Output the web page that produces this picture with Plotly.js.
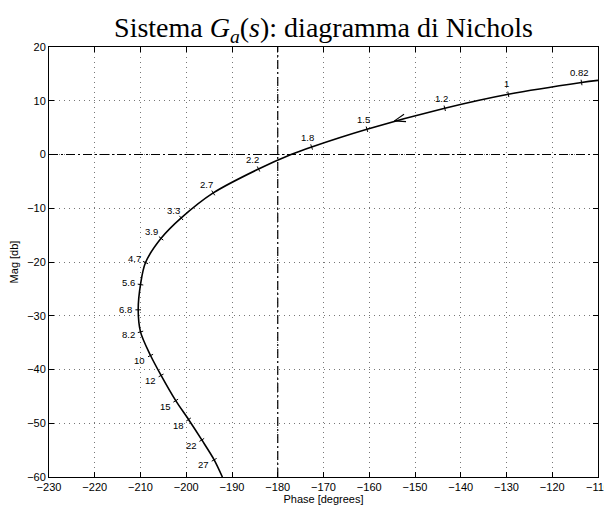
<!DOCTYPE html>
<html><head><meta charset="utf-8">
<script src="https://cdn.plot.ly/plotly-3.0.1.min.js"></script>
<style>html,body{margin:0;padding:0;background:#fff}</style>
</head><body><div id="chart" style="width:604px;height:507px"></div>
<script>
// Frequency labels of the marked points (rad/s)
const freqLabels = ['0.82','1','1.2','1.5','1.8','2.2','2.7','3.3','3.9','4.7','5.6','6.8','8.2','10','12','15','18','22','27'];
// Phase [deg] and magnitude [dB] of the marked points
const markPhase = [-113.6,-129.6,-143.5,-160.5,-172.6,-184.2,-194.1,-201.1,-205.5,-208.9,-210.0,-210.5,-210.0,-207.8,-205.5,-202.3,-199.5,-196.6,-193.9];
const markMag   = [13.4,11.2,8.6,4.7,1.4,-2.7,-7.15,-11.8,-15.6,-20.1,-24.2,-28.9,-33.0,-37.4,-41.1,-45.8,-49.3,-53.1,-56.8];
// Extra read points of the curve: entry at right edge, 0 dB crossing, exit at bottom
const startPoint = [-110, 13.8];
const zeroCross = [-177.1, 0];
const endPoint = [-192.1, -60];
// Direction arrow tip
const arrowTip = [-154.5, 6.26];
// Reference lines
const critPhase = -180;
const critMag = 0;
// Axes
const xRange = [-230, -110];
const yRange = [-60, 20];

// Build the curve from the read points
const curvePhase = [startPoint[0]];
const curveMag = [startPoint[1]];
const markIndex = [];
for (let i = 0; i < markPhase.length; i++) {
  markIndex.push(curvePhase.length);
  curvePhase.push(markPhase[i]); curveMag.push(markMag[i]);
  if (freqLabels[i] === '1.8') { curvePhase.push(zeroCross[0]); curveMag.push(zeroCross[1]); }
}
curvePhase.push(endPoint[0]); curveMag.push(endPoint[1]);

const W = 604, H = 507;
const M = {l: 49, r: 6, t: 47, b: 30};
const sx = (W - M.l - M.r) / (xRange[1] - xRange[0]);
const sy = (H - M.t - M.b) / (yRange[1] - yRange[0]);

function tangentAt(i) { // screen-space unit tangent at curve index i
  const a = Math.max(0, i - 1), b = Math.min(curvePhase.length - 1, i + 1);
  const dx = (curvePhase[b] - curvePhase[a]) * sx;
  const dy = -(curveMag[b] - curveMag[a]) * sy;
  const n = Math.hypot(dx, dy);
  return [dx / n, dy / n];
}

const angles = [], annotations = [];
markPhase.forEach((p, k) => {
  const t = tangentAt(markIndex[k]);
  angles.push(Math.atan2(t[1], t[0]) * 180 / Math.PI);
  const nx = -t[1], ny = t[0];
  annotations.push({
    x: p, y: markMag[k], text: freqLabels[k], showarrow: false,
    xanchor: 'center', yanchor: 'middle',
    xshift: nx * 12.5, yshift: -ny * 10.5,
    font: {family: 'Liberation Sans, Arial, sans-serif', size: 9.5, color: '#000'}
  });
});

// Arrow head along the curve direction
let ti = 0;
for (let i = 0; i < curvePhase.length - 1; i++) {
  if (curvePhase[i] >= arrowTip[0] && curvePhase[i + 1] <= arrowTip[0]) { ti = i; break; }
}
const adx = (curvePhase[ti + 1] - curvePhase[ti]) * sx, ady = -(curveMag[ti + 1] - curveMag[ti]) * sy;
const an = Math.hypot(adx, ady);
const tx = adx / an, ty = ady / an;
const L = 11, Wd = 3.8;
function wing(s) {
  const px = -tx * L + s * (-ty) * Wd, py = -ty * L + s * tx * Wd;
  return [arrowTip[0] + px / sx, arrowTip[1] - py / sy];
}
const w1 = wing(1), w2 = wing(-1);

const traces = [
  {x: curvePhase, y: curveMag, mode: 'lines', line: {color: '#000', width: 1.6, shape: 'spline', smoothing: 0.9}, hoverinfo: 'skip'},
  {x: markPhase, y: markMag, mode: 'markers', marker: {symbol: 'line-ns', size: 4, angle: angles, line: {color: '#000', width: 1}}, hoverinfo: 'skip'},
  {x: [w1[0], arrowTip[0], w2[0]], y: [w1[1], arrowTip[1], w2[1]], mode: 'lines', line: {color: '#000', width: 1.1}, hoverinfo: 'skip'}
];

const gridDash = '1px,4px';
const axisCommon = {
  showline: true, linecolor: '#000', linewidth: 1, mirror: 'ticks',
  ticks: 'inside', ticklen: 5, tickcolor: '#000', tickwidth: 1,
  showgrid: true, gridcolor: '#777', gridwidth: 1, griddash: gridDash,
  zeroline: false, dtick: 10, ticklabeloverflow: 'allow',
  tickfont: {family: 'Liberation Sans, Arial, sans-serif', size: 11, color: '#000'}
};

const layout = {
  width: W, height: H, margin: M, showlegend: false,
  paper_bgcolor: '#fff', plot_bgcolor: '#fff',
  title: {
    text: 'Sistema <i>G</i><sub><i>a</i></sub>(<i>s</i>): diagramma di Nichols',
    font: {family: 'Liberation Serif, Times New Roman, serif', size: 28, color: '#000'},
    x: 0.5, xref: 'paper', xanchor: 'center', y: 1, yref: 'paper', yanchor: 'bottom', pad: {b: 10}
  },
  xaxis: Object.assign({}, axisCommon, {range: xRange, tick0: -230,
    title: {text: 'Phase [degrees]', font: {family: 'Liberation Sans, Arial, sans-serif', size: 11, color: '#000'}, standoff: 2}}),
  yaxis: Object.assign({}, axisCommon, {range: yRange, tick0: -60,
    title: {text: 'Mag [db]', font: {family: 'Liberation Sans, Arial, sans-serif', size: 11, color: '#000'}, standoff: 6}}),
  shapes: [
    {type: 'line', xref: 'x', yref: 'y', x0: critPhase, x1: critPhase, y0: yRange[0], y1: yRange[1], line: {color: '#000', width: 1.2, dash: '9px,3px,2px,3px'}},
    {type: 'line', xref: 'x', yref: 'y', x0: xRange[0], x1: xRange[1], y0: critMag, y1: critMag, line: {color: '#000', width: 1.2, dash: '9px,3px,2px,3px'}}
  ],
  annotations: annotations
};

Plotly.newPlot('chart', traces, layout, {staticPlot: true, displayModeBar: false});
</script></body></html>
